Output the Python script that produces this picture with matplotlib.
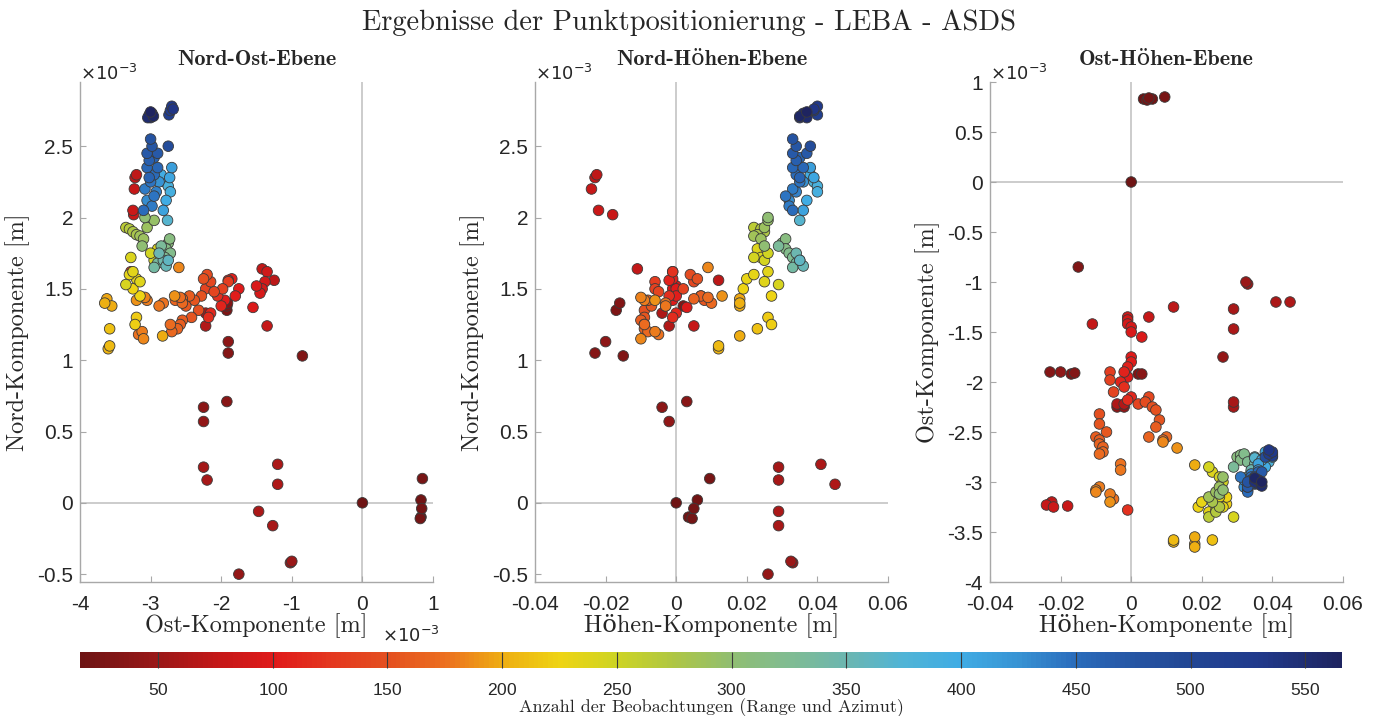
import numpy as np
import matplotlib.pyplot as plt
from matplotlib.colors import LinearSegmentedColormap, Normalize
from matplotlib.ticker import FuncFormatter, MultipleLocator
import matplotlib.cm as cm

# Punkte: Ost [1e-3 m], Nord [1e-3 m], Hoehe [m], Anzahl Beobachtungen
east_mm = [0.00, 0.85, 0.83, 0.84, 0.83, 0.82,
           -2.25, -2.25, -1.92, -2.25, -2.20, -1.20, -1.20, -1.47, -1.27, -1.02, -1.00, -1.75,
           -0.85, -1.90, -1.90, -1.92, -1.91, -1.92,
           -3.22, -3.20, -3.23, -3.25, -3.24,
           -1.25, -1.42, -1.35, -1.38, -1.42, -1.45, -1.50, -1.55, -1.35, -1.75, -1.80, -1.85,
           -1.90, -2.00, -2.15, -2.18, -2.22, -2.22, -1.95, -2.05, -3.28,
           -1.90, -1.98, -2.10, -2.15, -2.20, -2.22, -2.25, -2.28, -2.38, -2.45, -2.55, -2.55,
           -2.58, -2.66, -2.60, -2.32, -2.42, -2.55, -2.58, -2.62, -2.70, -2.72, -2.50, -2.65,
           -2.82, -2.88, -3.05, -3.10, -3.12, -3.17, -3.08, -3.20,
           -3.60, -3.58, -3.55, -3.62, -3.65, -3.58, -2.83, -3.20, -3.22, -3.15, -3.25, -3.20,
           -3.30, -3.25, -3.15, -3.28, -3.35, -2.85, -2.90, -2.95, -3.00,
           -3.30, -3.25, -3.20, -3.15, -3.10, -3.05, -2.95, -3.35, -3.12, -3.08,
           -2.75, -2.78, -2.72, -2.80, -2.85, -2.90, -2.95, -2.82, -2.88, -2.78, -2.75, -2.73,
           -2.80, -2.75, -2.72, -2.85, -2.78, -2.73, -2.82, -2.76, -2.70,
           -3.00, -2.98, -3.05, -3.02, -2.95, -2.90, -2.75, -3.05, -2.95, -3.00, -3.08, -2.92,
           -3.05, -2.98, -3.10, -2.90, -3.02, -2.88, -2.95,
           -3.02, -3.00, -2.98, -3.04, -2.96, -3.00, -2.72, -2.70, -2.74, -2.68]
north_mm = [0.00, 0.17, 0.02, -0.04, -0.10, -0.11,
            0.67, 0.57, 0.71, 0.25, 0.16, 0.27, 0.13, -0.06, -0.16, -0.42, -0.41, -0.50,
            1.03, 1.05, 1.13, 1.35, 1.40, 1.38,
            2.28, 2.30, 2.20, 2.05, 2.02,
            1.56, 1.64, 1.62, 1.55, 1.50, 1.47, 1.52, 1.37, 1.24, 1.50, 1.45, 1.57,
            1.56, 1.38, 1.33, 1.30, 1.33, 1.24, 1.42, 1.45, 1.62,
            1.55, 1.50, 1.48, 1.55, 1.60, 1.50, 1.57, 1.45, 1.42, 1.45, 1.43, 1.40,
            1.44, 1.45, 1.65, 1.35, 1.30, 1.28, 1.25, 1.22, 1.20, 1.25, 1.38, 1.42,
            1.40, 1.38, 1.42, 1.15, 1.20, 1.18, 1.44, 1.42,
            1.08, 1.10, 1.38, 1.43, 1.40, 1.22, 1.17, 1.30, 1.25, 1.45, 1.50, 1.57,
            1.60, 1.62, 1.55, 1.72, 1.53, 1.72, 1.78, 1.70, 1.75,
            1.92, 1.90, 1.88, 1.87, 1.85, 1.93, 1.98, 1.93, 1.80, 2.00,
            1.82, 1.78, 1.75, 1.72, 1.80, 1.68, 1.65, 1.70, 1.75, 1.66, 1.70, 1.85,
            2.25, 2.22, 2.18, 2.30, 2.12, 2.28, 2.05, 1.98, 2.35,
            2.55, 2.50, 2.45, 2.40, 2.42, 2.45, 2.50, 2.35, 2.30, 2.25, 2.20, 2.18,
            2.12, 2.08, 2.05, 2.35, 2.28, 2.25, 2.15,
            2.72, 2.70, 2.73, 2.70, 2.71, 2.74, 2.75, 2.78, 2.72, 2.76]
height_m = [0.000, 0.0095, 0.006, 0.005, 0.0035, 0.0045,
            -0.004, -0.002, 0.003, 0.029, 0.029, 0.041, 0.045, 0.029, 0.029, 0.033, 0.0325, 0.026,
            -0.015, -0.023, -0.020, -0.017, -0.016, 0.002,
            -0.023, -0.0225, -0.024, -0.022, -0.018,
            0.012, -0.011, -0.001, -0.001, -0.001, 0.000, 0.000, 0.003, 0.005, 0.000, 0.000, -0.001,
            -0.002, -0.003, 0.000, -0.001, -0.004, -0.002, -0.001, -0.002, -0.001,
            -0.006, -0.006, -0.005, 0.005, 0.004, 0.002, 0.006, 0.007, 0.008, 0.007, 0.005, 0.010,
            0.009, 0.013, 0.009, -0.009, -0.009, -0.010, -0.009, -0.009, -0.008, -0.009, -0.007, -0.008,
            -0.003, -0.003, -0.009, -0.010, -0.006, -0.005, -0.010, -0.006,
            0.012, 0.012, 0.018, 0.018, 0.018, 0.023, 0.018, 0.026, 0.027, 0.027, 0.019, 0.020,
            0.022, 0.026, 0.025, 0.024, 0.029, 0.022, 0.023, 0.025, 0.026,
            0.024, 0.025, 0.023, 0.022, 0.024, 0.025, 0.026, 0.022, 0.025, 0.026,
            0.030, 0.031, 0.032, 0.033, 0.029, 0.034, 0.033, 0.035, 0.034, 0.036, 0.035, 0.031,
            0.039, 0.040, 0.040, 0.038, 0.037, 0.039, 0.036, 0.035, 0.038,
            0.033, 0.034, 0.033, 0.034, 0.035, 0.037, 0.038, 0.033, 0.034, 0.035, 0.033, 0.034,
            0.032, 0.032, 0.033, 0.036, 0.035, 0.036, 0.031,
            0.036, 0.035, 0.036, 0.037, 0.035, 0.037, 0.039, 0.040, 0.040, 0.039]
n_obs = [16, 24, 20, 22, 18, 21,
         38, 42, 36, 55, 58, 60, 62, 60, 57, 48, 50, 45,
         30, 34, 40, 28, 32, 30,
         72, 74, 78, 82, 80,
         70, 75, 85, 88, 90, 92, 95, 96, 78, 100, 102, 105,
         108, 110, 112, 115, 62, 65, 100, 118, 120,
         130, 135, 140, 142, 145, 138, 150, 152, 155, 160, 165, 170,
         172, 188, 185, 150, 155, 160, 162, 165, 170, 172, 156, 166,
         175, 178, 180, 185, 180, 176, 182, 190,
         205, 208, 200, 198, 202, 212, 200, 220, 222, 225, 226, 230,
         232, 235, 236, 240, 242, 245, 238, 244, 248,
         270, 275, 280, 285, 290, 290, 295, 265, 300, 300,
         310, 315, 320, 325, 330, 335, 340, 345, 350, 355, 360, 312,
         380, 385, 390, 395, 400, 405, 410, 370, 415,
         480, 475, 470, 465, 460, 470, 490, 455, 450, 445, 440, 435,
         430, 440, 450, 455, 460, 425, 445,
         540, 545, 550, 555, 560, 565, 525, 530, 520, 535]

cb_ticks = [50, 100, 150, 200, 250, 300, 350, 400, 450, 500, 550]
n_min, n_max = 16, 566

# Farbskala aus dem Original abgegriffen
cb_stops = [16, 50, 75, 100, 125, 150, 175, 200, 225, 250, 275, 300, 325, 350, 375, 400, 425, 450, 475, 500, 530, 566]
cb_cols = ['#6e1414', '#9c1818', '#c41818', '#e01a1a', '#e43820', '#e45020', '#ec7020', '#eeae12',
           '#eed414', '#cdd424', '#aec644', '#90be72', '#80bc92', '#6cb6b0', '#50b4d6', '#40ace4',
           '#3894d4', '#2a6cbc', '#2656a4', '#224694', '#213a8c', '#1e2460']
cmap = LinearSegmentedColormap.from_list(
    'leba', [((s - n_min) / (n_max - n_min), c) for s, c in zip(cb_stops, cb_cols)])
norm = Normalize(n_min, n_max)

E = np.array(east_mm) * 1e-3
N = np.array(north_mm) * 1e-3
H = np.array(height_m)
C = np.array(n_obs)
order = np.argsort(C, kind='stable')
E, N, H, C = E[order], N[order], H[order], C[order]

serif = ['cmr10', 'DejaVu Serif']
serif_b = ['cmb10', 'DejaVu Serif']
plt.rcParams['font.family'] = ['Liberation Sans', 'DejaVu Sans']
plt.rcParams['axes.formatter.use_mathtext'] = True

fig = plt.figure(figsize=(13.78, 7.16), dpi=100)
W, Hh = 1378, 716

def mkax(x0):
    return fig.add_axes([x0 / W, 1 - 582 / Hh, 353 / W, 500 / Hh])

milli = FuncFormatter(lambda v, p: f"{v * 1e3:g}")
plain = FuncFormatter(lambda v, p: f"{v:g}")

panels = [
    (80, E, N, "Nord-Ost-Ebene", "Ost-Komponente [m]", "Nord-Komponente [m]",
     (-4e-3, 1e-3), (-0.555e-3, 2.95e-3), 1e-3, 0.5e-3, True, True),
    (535, H, N, "Nord-Höhen-Ebene", "Höhen-Komponente [m]", "Nord-Komponente [m]",
     (-0.04, 0.06), (-0.555e-3, 2.95e-3), 0.02, 0.5e-3, False, True),
    (990, H, E, "Ost-Höhen-Ebene", "Höhen-Komponente [m]", "Ost-Komponente [m]",
     (-0.04, 0.06), (-4e-3, 1e-3), 0.02, 0.5e-3, False, True),
]

for x0, xs, ys, title, xl, yl, xlim, ylim, xstep, ystep, xmilli, ymilli in panels:
    ax = mkax(x0)
    ax.axvline(0, color='#c8c8c8', lw=1.3, zorder=0)
    ax.axhline(0, color='#c8c8c8', lw=1.3, zorder=0)
    ax.scatter(xs, ys, c=C, cmap=cmap, norm=norm, s=58, edgecolors='#3a3a3a',
               linewidths=0.6, zorder=3)
    ax.set_xlim(xlim)
    ax.set_ylim(ylim)
    ax.xaxis.set_major_locator(MultipleLocator(xstep))
    ax.yaxis.set_major_locator(MultipleLocator(ystep))
    ax.xaxis.set_major_formatter(milli if xmilli else plain)
    ax.yaxis.set_major_formatter(milli if ymilli else plain)
    for s in ['top', 'right']:
        ax.spines[s].set_visible(False)
    for s in ['left', 'bottom']:
        ax.spines[s].set_color('#a8a8a8')
        ax.spines[s].set_linewidth(1.0)
    ax.tick_params(direction='in', length=4, color='#a8a8a8', labelsize=15,
                   labelcolor='#262626')
    ax.tick_params(axis='y', pad=5)
    ax.tick_params(axis='x', pad=9)
    ax.set_title(title, family=serif_b, fontsize=16, pad=12, color='#262626')
    ax.set_xlabel(xl, family=serif, fontsize=17.5, labelpad=0, color='#262626')
    ax.set_ylabel(yl, family=serif, fontsize=17.5, labelpad=5, color='#262626')
    if ymilli:
        ax.text(0.0, 0.995, r'$\times10^{-3}$', transform=ax.transAxes, fontsize=13,
                ha='left', va='bottom', color='#262626')
    if xmilli:
        ax.text(1.02, -0.088, r'$\times10^{-3}$', transform=ax.transAxes, fontsize=13,
                ha='right', va='top', color='#262626')

fig.text(0.5, 0.968, "Ergebnisse der Punktpositionierung - LEBA - ASDS", family=serif,
         fontsize=20.5, ha='center', va='center', color='#262626')

cax = fig.add_axes([80 / W, 1 - 668 / Hh, 1262 / W, 16 / Hh])
cb = fig.colorbar(cm.ScalarMappable(norm=norm, cmap=cmap), cax=cax, orientation='horizontal',
                  ticks=cb_ticks)
cb.outline.set_visible(False)
cax.tick_params(direction='in', length=11.5, width=0.8, color='#3a3a3a', labelsize=12.5,
                labelcolor='#262626', pad=10)
cb.set_label("Anzahl der Beobachtungen (Range und Azimut)", family=serif, fontsize=13,
             labelpad=0, color='#262626')

fig.savefig('out.png', dpi=100, facecolor='white')
